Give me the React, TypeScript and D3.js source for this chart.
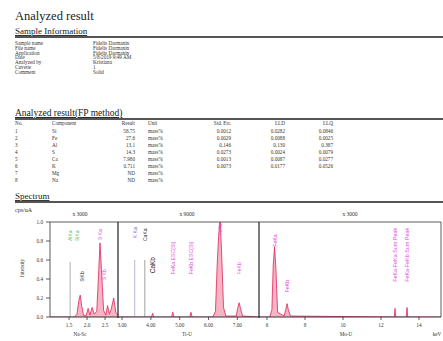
import React from "react";
import * as d3 from "d3";

const W = 443, H = 341;

const sampleLabels = ["Sample name", "File name", "Application", "Date", "Analyzed by", "Cuvette", "Comment"];
const sampleValues = ["Fidelis Darmanin", "Fidelis Darmanin", "Fidelis Darmanin", "5/8/2019 9:49 AM", "Kristiana", "1", "Solid"];

const resultHeader = ["No.", "Component", "Result", "Unit", "Std. Err.", "LLD", "LLQ"];
const components = ["Si", "Fe", "Al", "S", "Ca", "K", "Mg", "Na"];
const results = ["58.75", "27.6", "13.1", "14.3", "7.980", "0.711", "ND", "ND"];
const units = ["mass%", "mass%", "mass%", "mass%", "mass%", "mass%", "mass%", "mass%"];
const stdErr = ["0.0012", "0.0029", "0.146", "0.0273", "0.0013", "0.0073", "", ""];
const lld = ["0.0282", "0.0088", "0.130", "0.0024", "0.0087", "0.0177", "", ""];
const llq = ["0.0846", "0.0025", "0.387", "0.0079", "0.0277", "0.0526", "", ""];

const yTicks = [0, 0.2, 0.4, 0.6, 0.8, 1.0];

// panel definitions (energy keV)
const panelDomains: [number, number][] = [[0.97, 2.86], [2.86, 7.75], [5.58, 15.16]];
const panelRanges: [number, number][] = [[50, 118], [118, 259], [259, 441]];
const panelTicks = [[1.5, 2.0, 2.5], [3, 4, 5, 6, 7], [6, 8, 10, 12, 14]];
const panelTickFmt = [".1f", ".2f", "d"];
const panelNames = ["Na-Sc", "Ti-U", "Mo-U"];
const panelMult = ["x 3000", "x 9000", "x 3000"];

const spectrum1: [number, number][] = [
  [0.97, 0], [1.65, 0], [1.72, 0.03], [1.77, 0.17], [1.81, 0.23], [1.85, 0.12], [1.9, 0.02],
  [1.97, 0.01], [2.03, 0.09], [2.08, 0.02], [2.14, 0.1], [2.2, 0.03], [2.27, 0.06], [2.32, 0.45],
  [2.36, 0.78], [2.4, 0.5], [2.46, 0.07], [2.52, 0.02], [2.57, 0.12], [2.62, 0.03], [2.67, 0.08],
  [2.74, 0.2], [2.8, 0.05], [2.86, 0.02],
];
const spectrum2: [number, number][] = [
  [2.86, 0], [4.02, 0], [4.06, 0.04], [4.1, 0], [4.72, 0], [4.76, 0.05], [4.8, 0], [5.35, 0],
  [5.39, 0.05], [5.43, 0], [6.15, 0], [6.24, 0.06], [6.3, 0.55], [6.35, 0.85], [6.4, 1.05],
  [6.45, 0.7], [6.52, 0.1], [6.6, 0.01], [6.96, 0.01], [7.01, 0.09], [7.06, 0.15], [7.11, 0.09],
  [7.18, 0.01], [7.75, 0],
];
const spectrum3: [number, number][] = [
  [5.58, 0], [6.15, 0], [6.26, 0.08], [6.33, 0.55], [6.4, 0.74], [6.47, 0.5], [6.56, 0.05],
  [6.9, 0.01], [6.99, 0.08], [7.06, 0.14], [7.13, 0.07], [7.24, 0.01], [12.7, 0], [12.74, 0.09],
  [12.78, 0], [13.33, 0], [13.37, 0.1], [13.41, 0], [15.16, 0],
];
const spectra = [spectrum1, spectrum2, spectrum3];

// line annotations: panel, energy, top intensity, colour
const refPanel = [0, 1, 1];
const refEnergy = [1.53, 3.44, 3.79];
const refTop = [0.58, 0.6, 0.6];
const refColor = ["#9a9a9a", "#a9a0dc", "#8a8a8a"];

// peak labels: panel, energy, bottom intensity, text, colour, size
const lblPanel = [0, 0, 0, 0, 0, 1, 1, 1, 1, 1, 1, 1, 2, 2, 2, 2];
const lblEnergy = [1.53, 1.72, 1.86, 2.37, 2.47, 3.44, 3.79, 4.07, 4.76, 5.39, 6.4, 7.06, 6.4, 7.06, 12.74, 13.37];
const lblBottom = [0.8, 0.8, 0.37, 0.81, 0.39, 0.83, 0.8, 0.46, 0.45, 0.45, 0.86, 0.45, 0.74, 0.26, 0.37, 0.37];
const lblText = ["AlKa", "SiKa", "SiKb", "S Ka", "S Kb", "K Ka", "CaKa", "CaKb", "FeKa ESC(Si)", "FeKb ESC(Si)", "FeKa", "FeKb", "FeKa", "FeKb", "FeKa-FeKa Sum Peak", "FeKa-FeKb Sum Peak"];
const lblColor = ["#5cc35c", "#5cc35c", "#333", "#e04ce0", "#e04ce0", "#6a60c8", "#333", "#222", "#e04ce0", "#e04ce0", "#e04ce0", "#e04ce0", "#e04ce0", "#e04ce0", "#e04ce0", "#e04ce0"];
const lblSize = [5, 5, 5, 5, 5, 5, 5, 6.5, 5.2, 5.2, 5, 5, 5.2, 5.2, 5.4, 5.4];

const serif = "'Liberation Serif', 'Times New Roman', serif";

export default function App() {
  const plotTop = 222, plotBottom = 317;
  const y = d3.scaleLinear().domain([0, 1]).range([plotBottom, plotTop]);
  const xs = panelDomains.map((d, i) => d3.scaleLinear().domain(d).range(panelRanges[i]));
  const area = (i: number) =>
    d3.area<[number, number]>().x((d) => xs[i](d[0])).y0(y(0)).y1((d) => y(d[1]));
  const line = (i: number) =>
    d3.line<[number, number]>().x((d) => xs[i](d[0])).y((d) => y(d[1]));

  const sTop = 43, sStep = 4.85;
  const rTop = 130.7, rStep = 7.05;
  const rowText = (vals: string[], x: number, anchor: string) =>
    vals.map((v, i) => (
      <text key={i} x={x} y={rTop + i * rStep + 1.8} textAnchor={anchor}>{v}</text>
    ));

  return (
    <svg width={W} height={H} style={{ position: "absolute", left: 0, top: 0, background: "#fff" }} fontFamily={serif}>
      <defs>
        <clipPath id="plotclip">
          <rect x={50} y={plotTop} width={391} height={plotBottom - plotTop} />
        </clipPath>
      </defs>
      <rect width={W} height={H} fill="#fff" />
      {/* Title */}
      <text x={15} y={20} fontSize={12.5} fill="#222">Analyzed result</text>

      {/* Sample information */}
      <text x={15} y={34} fontSize={9} fill="#222" textDecoration="underline">Sample Information</text>
      <line x1={15} x2={443} y1={37} y2={37} stroke="#555" strokeWidth={2} />
      <g fontSize={5.2} fill="#333">
        {sampleLabels.map((s, i) => (
          <text key={"l" + i} x={15} y={sTop + i * sStep + 1.8}>{s}</text>
        ))}
        {sampleValues.map((s, i) => (
          <text key={"v" + i} x={93} y={sTop + i * sStep + 1.8}>{s}</text>
        ))}
      </g>

      {/* Results */}
      <text x={15} y={116} fontSize={9.5} fill="#222" textDecoration="underline">Analyzed result(FP method)</text>
      <line x1={15} x2={443} y1={119} y2={119} stroke="#555" strokeWidth={2} />
      <g fontSize={5.2} fill="#333">
        <text x={15} y={125}>{resultHeader[0]}</text>
        <text x={52} y={125}>{resultHeader[1]}</text>
        <text x={135} y={125} textAnchor="end">{resultHeader[2]}</text>
        <text x={148} y={125}>{resultHeader[3]}</text>
        <text x={231} y={125} textAnchor="end">{resultHeader[4]}</text>
        <text x={285} y={125} textAnchor="end">{resultHeader[5]}</text>
        <text x={333} y={125} textAnchor="end">{resultHeader[6]}</text>
        {rowText(components.map((_, i) => String(i + 1)), 15, "start")}
        {rowText(components, 52, "start")}
        {rowText(results, 135, "end")}
        {rowText(units, 148, "start")}
        {rowText(stdErr, 231, "end")}
        {rowText(lld, 285, "end")}
        {rowText(llq, 333, "end")}
      </g>

      {/* Spectrum */}
      <text x={15} y={199} fontSize={9} fill="#222" textDecoration="underline">Spectrum</text>
      <line x1={15} x2={443} y1={202} y2={202} stroke="#555" strokeWidth={2} />
      <text x={15} y={212} fontSize={6} fill="#333">cps/uA</text>

      {/* panel multipliers */}
      {panelMult.map((m, i) => (
        <text key={"m" + i} x={[80, 187, 350][i]} y={215.5} fontSize={5.5} textAnchor="middle" fill="#333">{m}</text>
      ))}

      {/* spectra */}
      <g clipPath="url(#plotclip)">
        {spectra.map((s, i) => (
          <g key={"s" + i}>
            <path d={area(i)(s) || ""} fill="#f39bb0" fillOpacity={0.75} />
            <path d={line(i)(s) || ""} fill="none" stroke="#e0245a" strokeWidth={0.8} />
          </g>
        ))}
        {refEnergy.map((e, i) => (
          <line key={"r" + i} x1={xs[refPanel[i]](e)} x2={xs[refPanel[i]](e)} y1={y(0)} y2={y(refTop[i])} stroke={refColor[i]} strokeWidth={0.8} />
        ))}
      </g>

      {/* peak labels */}
      {lblText.map((t, i) => {
        const px = xs[lblPanel[i]](lblEnergy[i]);
        const py = y(lblBottom[i]);
        return (
          <text key={"t" + i} transform={`translate(${px},${py}) rotate(-90)`} fontSize={lblSize[i]} fill={lblColor[i]} dominantBaseline="central" fontFamily="'Liberation Sans', Arial, sans-serif">{t}</text>
        );
      })}

      {/* frame */}
      <line x1={50} x2={441} y1={plotTop} y2={plotTop} stroke="#333" strokeWidth={0.8} />
      <line x1={441} x2={441} y1={plotTop} y2={plotBottom} stroke="#333" strokeWidth={0.8} />
      <line x1={50} x2={50} y1={plotTop} y2={plotBottom} stroke="#333" strokeWidth={0.8} />
      <line x1={50} x2={441} y1={plotBottom} y2={plotBottom} stroke="#333" strokeWidth={1} />
      {[118, 259].map((x) => (
        <line key={"d" + x} x1={x} x2={x} y1={plotTop} y2={plotBottom + 1} stroke="#222" strokeWidth={1.2} />
      ))}

      {/* y axis */}
      {yTicks.map((t) => (
        <g key={"y" + t}>
          <line x1={46} x2={50} y1={y(t)} y2={y(t)} stroke="#333" strokeWidth={0.8} />
          <text x={43} y={y(t) + 1.8} fontSize={5.2} textAnchor="end" fill="#333">{d3.format(".1f")(t)}</text>
        </g>
      ))}
      <text transform={`translate(24,268) rotate(-90)`} fontSize={5.2} textAnchor="middle" fill="#333">Intensity</text>

      {/* x axes */}
      {xs.map((sc, i) => (
        <g key={"x" + i}>
          {panelTicks[i].map((t) => (
            <g key={t}>
              <line x1={sc(t)} x2={sc(t)} y1={plotBottom} y2={plotBottom + 3} stroke="#333" strokeWidth={0.8} />
              <text x={sc(t)} y={plotBottom + 9.5} fontSize={5.2} textAnchor="middle" fill="#333">{d3.format(panelTickFmt[i])(t)}</text>
            </g>
          ))}
          <text x={[80, 187, 346][i]} y={plotBottom + 19} fontSize={5.2} textAnchor="middle" fill="#333">{panelNames[i]}</text>
        </g>
      ))}
      <text x={437} y={plotBottom + 19} fontSize={5.2} textAnchor="middle" fill="#333">keV</text>
    </svg>
  );
}
